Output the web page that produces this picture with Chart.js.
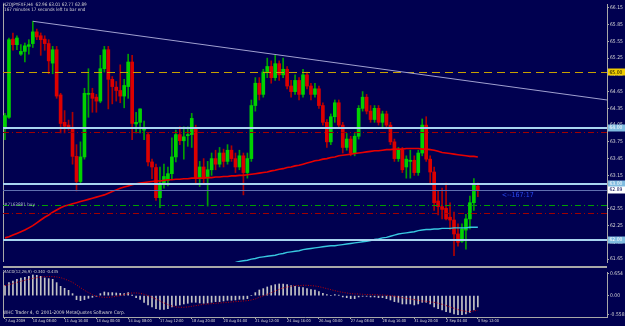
<!DOCTYPE html>
<html>
<head>
<meta charset="utf-8">
<script src="https://cdn.jsdelivr.net/npm/chart.js@4.4.0/dist/chart.umd.min.js"></script>
<style>
  html, body { margin: 0; padding: 0; background: #000050; }
  #wrap { position: relative; width: 625px; height: 326px; overflow: hidden; background: #000050; }
  #priceChart { position: absolute; left: 0; top: 0; }
  #macdChart { position: absolute; left: 0; top: 268px; }
  #sep { position: absolute; left: 3px; top: 266px; width: 604px; height: 2px; background: #a8a8a8; }
</style>
</head>
<body>
<div id="wrap">
  <canvas id="priceChart" width="625" height="266"></canvas>
  <div id="sep"></div>
  <canvas id="macdChart" width="625" height="58"></canvas>
</div>
<script>
// NZDJPY H4 candles, 7 Aug 04:00 .. 3 Sep 12:00
const opens = [
  64.00, 64.19, 65.59, 65.49, 65.32, 65.37, 65.46, 65.51, 65.72, 65.65,
  65.59, 65.51, 65.16, 65.40, 64.59, 64.10, 64.05, 64.00, 63.49, 63.04,
  63.48, 64.60, 64.62, 64.55, 64.48, 65.06, 65.40, 64.87, 64.73, 64.67,
  64.57, 64.74, 65.18, 64.07, 64.10, 63.96, 63.88, 63.39, 63.29, 62.75,
  63.01, 63.06, 63.18, 63.48, 63.88, 63.77, 63.86, 63.88, 64.00, 63.09,
  63.30, 63.10, 63.25, 63.45, 63.35, 63.55, 63.40, 63.60, 63.45, 63.30,
  63.50, 63.20, 63.45, 64.40, 64.80, 64.60, 65.00, 65.10, 64.90, 65.15,
  64.95, 65.05, 64.75, 64.65, 64.85, 64.60, 64.95, 64.75, 64.60, 64.70,
  64.40, 64.10, 63.75, 64.20, 64.45, 64.05, 63.65, 63.80, 63.55, 63.85,
  64.35, 64.55, 64.30, 64.15, 64.35, 64.10, 64.25, 64.05, 63.75, 63.45,
  63.60, 63.30, 63.40, 63.42, 63.20, 63.55, 64.05, 63.44, 63.21, 62.69,
  62.59, 62.56, 62.40, 62.35, 62.10, 61.97, 62.17, 62.37, 62.66, 62.96
];
const highs = [
  64.26, 65.61, 65.70, 65.65, 65.49, 65.52, 65.58, 65.91, 65.77, 65.70,
  65.65, 65.58, 65.46, 65.46, 64.62, 64.31, 64.14, 64.28, 63.70, 63.75,
  64.71, 65.06, 64.71, 64.60, 65.30, 65.46, 65.46, 64.92, 64.83, 65.13,
  64.87, 65.32, 65.30, 64.28, 64.34, 64.12, 63.91, 63.44, 63.35, 63.30,
  63.35, 63.30, 63.82, 63.96, 64.02, 64.02, 64.02, 64.26, 64.05, 63.40,
  63.45, 63.40, 63.55, 63.60, 63.65, 63.62, 63.70, 63.68, 63.55, 63.60,
  63.55, 63.55, 64.50, 64.90, 64.90, 65.05, 65.25, 65.20, 65.30, 65.20,
  65.25, 65.10, 64.85, 64.95, 64.90, 65.05, 65.00, 64.80, 64.80, 64.75,
  64.45, 64.15, 64.25, 64.50, 64.50, 64.10, 63.90, 63.85, 63.90, 64.40,
  64.65, 64.60, 64.40, 64.40, 64.40, 64.30, 64.30, 64.10, 63.80, 63.65,
  63.65, 63.50, 63.60, 63.50, 63.60, 64.16, 64.20, 63.50, 63.30, 62.87,
  62.92, 63.01, 62.66, 62.49, 62.28, 62.28, 62.45, 62.78, 63.09, 63.01
];
const lows = [
  63.79, 64.17, 65.39, 65.40, 65.30, 65.18, 65.32, 65.44, 65.58, 65.30,
  65.39, 64.97, 64.97, 64.53, 63.91, 63.91, 63.96, 63.35, 62.87, 63.01,
  63.44, 64.19, 64.28, 64.28, 64.45, 65.00, 64.34, 64.43, 64.48, 64.45,
  64.36, 64.53, 63.79, 63.91, 63.91, 63.79, 63.32, 63.09, 62.70, 62.57,
  62.92, 62.96, 63.09, 63.39, 63.70, 63.44, 63.67, 63.65, 63.00, 62.95,
  63.00, 62.60, 63.15, 63.25, 63.30, 63.30, 63.35, 63.40, 63.20, 63.25,
  62.80, 63.10, 63.40, 64.30, 64.50, 64.55, 64.90, 64.80, 64.85, 64.85,
  64.90, 64.70, 64.55, 64.60, 64.50, 64.55, 64.70, 64.50, 64.55, 64.35,
  64.05, 63.65, 63.70, 64.10, 64.00, 63.55, 63.60, 63.50, 63.50, 63.80,
  64.30, 64.25, 64.10, 64.10, 64.05, 64.00, 64.00, 63.70, 63.40, 63.40,
  63.20, 63.10, 63.10, 63.15, 63.15, 63.50, 63.40, 63.00, 62.52, 62.44,
  62.37, 62.35, 62.18, 61.71, 61.88, 61.95, 61.83, 62.19, 62.52, 62.77
];
const closes = [
  64.22, 65.58, 65.49, 65.61, 65.37, 65.47, 65.49, 65.72, 65.63, 65.58,
  65.51, 65.20, 65.40, 64.57, 64.08, 64.03, 64.00, 63.49, 63.04, 63.48,
  64.62, 64.62, 64.53, 64.48, 65.06, 65.40, 64.87, 64.74, 64.67, 64.57,
  64.76, 65.18, 64.08, 64.10, 64.34, 63.99, 63.39, 63.30, 62.75, 63.01,
  63.13, 63.18, 63.48, 63.88, 63.77, 63.84, 63.88, 64.17, 63.09, 63.30,
  63.10, 63.25, 63.45, 63.35, 63.55, 63.40, 63.60, 63.45, 63.30, 63.50,
  63.20, 63.45, 64.40, 64.80, 64.60, 65.00, 65.10, 64.90, 65.15, 64.95,
  65.05, 64.75, 64.65, 64.85, 64.60, 64.95, 64.75, 64.60, 64.70, 64.40,
  64.10, 63.75, 64.20, 64.45, 64.05, 63.65, 63.80, 63.55, 63.85, 64.35,
  64.55, 64.30, 64.15, 64.35, 64.10, 64.25, 64.05, 63.75, 63.45, 63.60,
  63.25, 63.44, 63.42, 63.20, 63.55, 64.05, 63.44, 63.21, 62.66, 62.59,
  62.54, 62.37, 62.35, 62.10, 61.95, 62.19, 62.37, 62.66, 62.97, 62.89
];

// red moving average
const maRed = [
  62.03, 62.05, 62.08, 62.11, 62.14, 62.17, 62.21, 62.25, 62.30, 62.35,
  62.40, 62.44, 62.49, 62.53, 62.57, 62.60, 62.62, 62.64, 62.66, 62.68,
  62.70, 62.72, 62.74, 62.76, 62.78, 62.80, 62.83, 62.86, 62.89, 62.92,
  62.94, 62.96, 62.98, 63.00, 63.01, 63.02, 63.03, 63.04, 63.05, 63.05,
  63.06, 63.07, 63.07, 63.08, 63.08, 63.09, 63.09, 63.10, 63.10, 63.10,
  63.10, 63.11, 63.11, 63.12, 63.12, 63.13, 63.13, 63.14, 63.14, 63.15,
  63.15, 63.16, 63.17, 63.18, 63.19, 63.20, 63.21, 63.23, 63.24, 63.26,
  63.27, 63.29, 63.30, 63.32, 63.33, 63.35, 63.37, 63.39, 63.41, 63.42,
  63.44, 63.45, 63.47, 63.48, 63.50, 63.51, 63.52, 63.53, 63.54, 63.55,
  63.56, 63.57, 63.58, 63.59, 63.59, 63.60, 63.61, 63.61, 63.62, 63.62,
  63.62, 63.63, 63.63, 63.63, 63.63, 63.62, 63.62, 63.61, 63.60, 63.58,
  63.56, 63.55, 63.54, 63.53, 63.52, 63.51, 63.50, 63.49, 63.49, 63.48
];
// cyan moving average, visible from bar 57
const maCyanStart = 57;
const maCyan = [
  61.58, 61.59, 61.61, 61.62, 61.63, 61.65, 61.66, 61.68, 61.69, 61.70,
  61.71, 61.72, 61.74, 61.75, 61.77, 61.78, 61.79, 61.80, 61.82, 61.83,
  61.84, 61.85, 61.86, 61.87, 61.88, 61.89, 61.89, 61.90, 61.91, 61.92,
  61.93, 61.94, 61.95, 61.96, 61.97, 61.98, 62.00, 62.01, 62.03, 62.04,
  62.06, 62.08, 62.10, 62.11, 62.12, 62.13, 62.14, 62.16, 62.17, 62.18,
  62.18, 62.19, 62.19, 62.20, 62.20, 62.20, 62.21, 62.21, 62.21, 62.21,
  62.22, 62.22, 62.22
];

// MACD(12,26,9)
const macdMain = [
  0.30, 0.39, 0.44, 0.49, 0.53, 0.55, 0.58, 0.62, 0.61, 0.58,
  0.53, 0.51, 0.49, 0.39, 0.28, 0.22, 0.16, 0.06, -0.12, -0.15,
  -0.12, -0.08, -0.05, -0.02, 0.06, 0.11, 0.09, 0.09, 0.08, 0.07,
  0.06, 0.09, 0.01, -0.06, -0.11, -0.20, -0.28, -0.34, -0.39, -0.41,
  -0.41, -0.39, -0.34, -0.29, -0.28, -0.25, -0.23, -0.20, -0.20, -0.22,
  -0.23, -0.22, -0.20, -0.18, -0.18, -0.16, -0.14, -0.14, -0.13, -0.11,
  -0.11, -0.09, 0.00, 0.09, 0.17, 0.21, 0.26, 0.30, 0.33, 0.35,
  0.35, 0.33, 0.30, 0.28, 0.26, 0.24, 0.21, 0.18, 0.17, 0.12,
  0.07, 0.03, 0.00, 0.03, 0.01, -0.04, -0.06, -0.09, -0.09, -0.04,
  -0.02, -0.02, -0.04, -0.04, -0.06, -0.06, -0.09, -0.13, -0.18, -0.20,
  -0.25, -0.25, -0.25, -0.28, -0.25, -0.20, -0.20, -0.25, -0.34, -0.39,
  -0.43, -0.48, -0.50, -0.55, -0.57, -0.57, -0.55, -0.50, -0.43, -0.34
];
const macdSignal = [
  0.30, 0.33, 0.36, 0.40, 0.43, 0.46, 0.49, 0.52, 0.54, 0.56,
  0.57, 0.57, 0.57, 0.56, 0.54, 0.50, 0.45, 0.40, 0.32, 0.24,
  0.16, 0.09, 0.03, -0.02, -0.04, -0.05, -0.05, -0.04, -0.02, 0.00,
  0.03, 0.06, 0.08, 0.08, 0.07, 0.04, 0.00, -0.05, -0.10, -0.16,
  -0.22, -0.27, -0.31, -0.34, -0.35, -0.35, -0.34, -0.32, -0.30, -0.28,
  -0.26, -0.25, -0.24, -0.23, -0.22, -0.21, -0.20, -0.19, -0.18, -0.17,
  -0.16, -0.15, -0.13, -0.10, -0.05, -0.01, 0.04, 0.09, 0.14, 0.19,
  0.23, 0.26, 0.28, 0.30, 0.30, 0.31, 0.31, 0.30, 0.29, 0.27,
  0.24, 0.21, 0.18, 0.15, 0.12, 0.10, 0.08, 0.06, 0.05, 0.05,
  0.04, 0.03, 0.03, 0.03, 0.02, 0.02, 0.01, 0.00, -0.02, -0.04,
  -0.06, -0.08, -0.10, -0.12, -0.14, -0.16, -0.17, -0.19, -0.20, -0.23,
  -0.26, -0.30, -0.34, -0.38, -0.42, -0.45, -0.47, -0.48, -0.46, -0.435
];

const priceTicks = [66.15, 65.85, 65.55, 65.25, 64.95, 64.65, 64.35, 64.05,
  63.75, 63.45, 63.15, 62.85, 62.55, 62.25, 61.95, 61.65];
const macdTicks = [0.654, 0, -0.558];
const macdTickText = ['0.654', '0.00', '-0.558'];

const timeTickIndex = [0, 7, 15, 23, 31, 39, 47, 55, 63, 71, 79, 87, 95, 103, 111, 119];
const timeTickText = ['7 Aug 2009', '10 Aug 08:00', '11 Aug 16:00', '13 Aug 00:00',
  '14 Aug 08:00', '17 Aug 12:00', '18 Aug 20:00', '20 Aug 04:00', '21 Aug 12:00',
  '24 Aug 16:00', '26 Aug 00:00', '27 Aug 08:00', '28 Aug 16:00', '31 Aug 20:00',
  '2 Sep 04:00', '3 Sep 12:00'];

// chart objects
const yellowLevel = 65.00;
const roundLevels = [64.00, 63.00, 62.00];
const stopLevels = [63.93, 62.48];
const orderLevel = 62.62;
const bidPrice = 62.89;
const trendFrom = [7, 65.91];
const trendTo = [151.5, 64.50];

const SLOTS = 152; // bars + right shift
const slotLabels = Array.from({length: SLOTS}, (_, i) => String(i));

const AXIS = '#a8a8a8';
const TXT = '#d8d8d8';
const NARROW = "'Liberation Sans Narrow', 'DejaVu Sans Condensed', 'Liberation Sans', sans-serif";

const bodyData = opens.map((o, i) => [o, closes[i]]);
const wickData = lows.map((l, i) => [l, highs[i]]);
const isUp = i => closes[i] >= opens[i];
const cyanData = slotLabels.map((_, i) => (i >= maCyanStart && i - maCyanStart < maCyan.length) ? maCyan[i - maCyanStart] : null);

function hline(ctx, area, y, color, width, dash) {
  ctx.save();
  ctx.strokeStyle = color;
  ctx.lineWidth = width;
  ctx.setLineDash(dash);
  const yy = width % 2 ? Math.round(y) + 0.5 : Math.round(y);
  ctx.beginPath();
  ctx.moveTo(area.left, yy);
  ctx.lineTo(area.right, yy);
  ctx.stroke();
  ctx.restore();
}

function priceBox(ctx, chart, value, bg, fg) {
  const y = chart.scales.y.getPixelForValue(value);
  const x0 = chart.chartArea.right + 1;
  ctx.save();
  ctx.fillStyle = bg;
  ctx.fillRect(x0, Math.round(y) - 3.5, 18, 7);
  ctx.fillStyle = fg;
  ctx.font = '5px ' + NARROW;
  ctx.textBaseline = 'middle';
  ctx.fillText(value.toFixed(2), x0 + 1.5, y + 0.3);
  ctx.restore();
}

function leftFrame(chart) {
  const {ctx, chartArea} = chart;
  ctx.save();
  ctx.strokeStyle = AXIS;
  ctx.lineWidth = 1;
  ctx.beginPath();
  ctx.moveTo(chartArea.left + 0.5, chartArea.top);
  ctx.lineTo(chartArea.left + 0.5, chartArea.bottom);
  ctx.stroke();
  ctx.restore();
}

const objectsPlugin = {
  id: 'mtObjects',
  beforeDatasetsDraw(chart) {
    leftFrame(chart);
  },
  afterDatasetsDraw(chart) {
    const {ctx, chartArea: area, scales} = chart;
    const y = scales.y, x = scales.x;
    hline(ctx, area, y.getPixelForValue(yellowLevel), '#c8a000', 1, [8, 5]);
    stopLevels.forEach(v => hline(ctx, area, y.getPixelForValue(v), '#a00000', 1, [6, 3, 1, 3]));
    hline(ctx, area, y.getPixelForValue(orderLevel), '#00a000', 1, [6, 3, 1, 3]);
    hline(ctx, area, y.getPixelForValue(bidPrice), '#6070b0', 1, []);
    roundLevels.forEach(v => hline(ctx, area, y.getPixelForValue(v), '#a8d4f0', 2, []));

    // trend line
    ctx.save();
    ctx.strokeStyle = '#a0a0d0';
    ctx.lineWidth = 1;
    ctx.beginPath();
    ctx.moveTo(x.getPixelForValue(trendFrom[0]), y.getPixelForValue(trendFrom[1]));
    ctx.lineTo(x.getPixelForValue(trendTo[0]), y.getPixelForValue(trendTo[1]));
    ctx.stroke();
    ctx.restore();
  },
  afterDraw(chart) {
    const {ctx, scales} = chart;
    priceBox(ctx, chart, yellowLevel, '#f0cc00', '#000000');
    roundLevels.forEach(v => priceBox(ctx, chart, v, '#80bce0', '#ffffff'));
    priceBox(ctx, chart, bidPrice, '#ffffff', '#000050');

    ctx.save();
    ctx.textBaseline = 'middle';
    ctx.fillStyle = TXT;
    ctx.font = '4.6px ' + NARROW;
    ctx.fillText('NZDJPYFXF,H4  62.96 63.01 62.77 62.89', 3, 4.5);
    ctx.fillText('167 minutes 17 seconds left to bar end', 4, 10);
    ctx.fillStyle = '#b0b4d0';
    ctx.fillText('#7163881 buy', 4, 205);
    ctx.fillStyle = '#2848f0';
    ctx.font = '7px ' + NARROW;
    ctx.fillText('<--167:17', scales.x.getPixelForValue(125), 195.5);
    ctx.restore();
  }
};

new Chart(document.getElementById('priceChart'), {
  type: 'bar',
  data: {
    labels: slotLabels,
    datasets: [
      {
        type: 'line', data: maRed, borderColor: '#e80000', borderWidth: 1.6,
        pointRadius: 0, fill: false, order: 0
      },
      {
        type: 'line', data: cyanData, borderColor: '#38c8e0', borderWidth: 1.4,
        pointRadius: 0, fill: false, order: 0
      },
      {
        data: bodyData, barThickness: 3, minBarLength: 1, grouped: false, order: 1,
        backgroundColor: c => isUp(c.dataIndex) ? '#00d200' : '#dc0000'
      },
      {
        data: wickData, barThickness: 1, grouped: false, order: 2,
        backgroundColor: c => isUp(c.dataIndex) ? '#00a000' : '#b00000'
      }
    ]
  },
  options: {
    responsive: false,
    animation: false,
    events: [],
    layout: { padding: { left: 3, right: 0, top: 0, bottom: 0 } },
    plugins: { legend: { display: false }, tooltip: { enabled: false } },
    scales: {
      x: { type: 'category', display: false, offset: true },
      y: {
        position: 'right',
        min: 61.598, max: 66.219,
        afterBuildTicks: s => { s.ticks = priceTicks.map(v => ({ value: v })); },
        afterFit: s => { s.width = 18; },
        grid: { drawOnChartArea: false, color: AXIS, tickLength: 2 },
        border: { color: AXIS },
        ticks: {
          autoSkip: false, padding: 1, color: TXT,
          font: { size: 5, family: NARROW },
          callback: v => Number(v).toFixed(2)
        }
      }
    }
  },
  plugins: [objectsPlugin]
});

const macdTextPlugin = {
  id: 'macdText',
  beforeDatasetsDraw(chart) {
    leftFrame(chart);
  },
  afterDraw(chart) {
    const {ctx} = chart;
    ctx.save();
    ctx.fillStyle = TXT;
    ctx.textBaseline = 'middle';
    ctx.font = '4.2px ' + NARROW;
    ctx.fillText('MACD(12,26,9) -0.340 -0.435', 3, 3.5);
    ctx.font = '4.8px ' + NARROW;
    ctx.fillText('WHC Trader 4, \u00a9 2001-2009 MetaQuotes Software Corp.', 3, 45);
    ctx.restore();
  }
};

new Chart(document.getElementById('macdChart'), {
  type: 'bar',
  data: {
    labels: slotLabels,
    datasets: [
      {
        type: 'line', data: macdSignal, borderColor: '#c00000', borderWidth: 1,
        borderDash: [1, 1.5], pointRadius: 0, fill: false, order: 0
      },
      {
        data: macdMain, barThickness: 1, backgroundColor: '#c4c4c4', order: 1
      }
    ]
  },
  options: {
    responsive: false,
    animation: false,
    events: [],
    layout: { padding: { left: 3, right: 0, top: 0, bottom: 0 } },
    plugins: { legend: { display: false }, tooltip: { enabled: false } },
    scales: {
      x: {
        type: 'category', offset: true,
        afterFit: s => { s.height = 9; },
        grid: {
          offset: false, drawOnChartArea: false, tickLength: 2,
          color: c => timeTickIndex.includes(c.index) ? AXIS : 'rgba(0,0,0,0)'
        },
        border: { color: AXIS },
        ticks: {
          autoSkip: false, maxRotation: 0, minRotation: 0, align: 'start', padding: 0,
          color: TXT, font: { size: 3.9, family: NARROW },
          callback: (v, i) => {
            const k = timeTickIndex.indexOf(i);
            return k >= 0 ? timeTickText[k] : '';
          }
        }
      },
      y: {
        position: 'right',
        min: -0.641, max: 0.709,
        afterBuildTicks: s => { s.ticks = macdTicks.map(v => ({ value: v })); },
        afterFit: s => { s.width = 18; },
        grid: { drawOnChartArea: false, color: AXIS, tickLength: 2 },
        border: { color: AXIS },
        ticks: {
          autoSkip: false, padding: 1, color: TXT,
          font: { size: 5, family: NARROW },
          callback: v => macdTickText[macdTicks.indexOf(v)]
        }
      }
    }
  },
  plugins: [macdTextPlugin]
});
</script>
</body>
</html>
